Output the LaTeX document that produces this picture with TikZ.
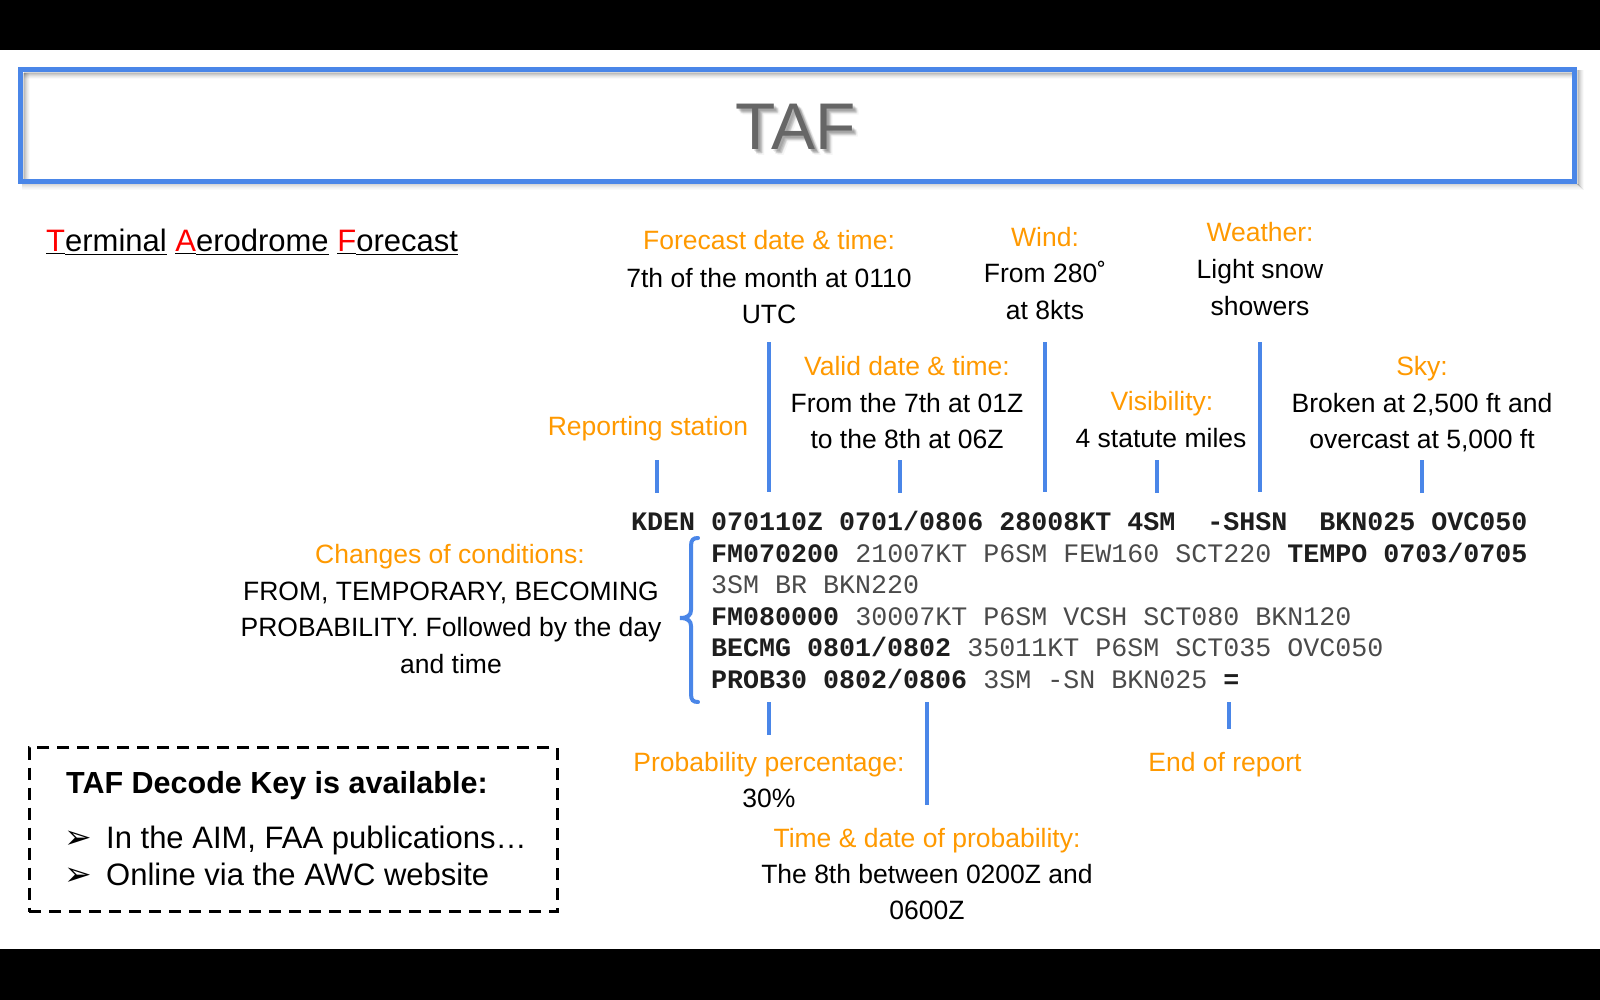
\documentclass[tikz,border=0pt]{standalone}
\usepackage{fontspec}
\setmainfont{Liberation Sans}
\setmonofont{Liberation Mono}
\newfontfamily\dejavu{DejaVu Sans}
\definecolor{tafblue}{HTML}{4A86E8}
\definecolor{taforange}{HTML}{FF9900}
\definecolor{tafgray}{HTML}{666666}
\definecolor{codereg}{HTML}{4A4A4A}
\definecolor{codebold}{HTML}{1E1E1E}
\newcommand{\cb}[1]{{\bfseries\color{codebold}#1}}
\tikzset{
  lblo/.style={text=taforange, font=\fontsize{26.5}{36.5}\selectfont, inner sep=0pt, anchor=base, align=center},
  lblb/.style={text=black, font=\fontsize{26.5}{36.5}\selectfont, inner sep=0pt, anchor=base, align=center},
  codeline/.style={text=codereg, font=\ttfamily\fontsize{26.67}{32}\selectfont, inner sep=0pt, anchor=base west},
  conn/.style={draw=tafblue, line width=4.5pt},
  keytext/.style={text=black, font=\fontsize{31}{36}\selectfont, inner sep=0pt, anchor=base west},
}
\begin{document}
\begin{tikzpicture}[x=1pt,y=-1pt]
\useasboundingbox (0,0) rectangle (1600,1000);
\fill[black] (0,0) rectangle (1600,50);
\fill[black] (0,949) rectangle (1600,1000);

% title box with soft shadows
\foreach \i/\o in {1/0.16,2/0.12,3/0.09,4/0.06,5/0.04,6/0.02}{
  \draw[black, opacity=\o, line width=1.2pt] (23+\i,73) -- (23+\i,179);
  \draw[black, opacity=\o, line width=1.2pt] (24,72+\i) -- (1572,72+\i);
  \draw[black, opacity=\o, line width=1.2pt] (22,183.5+\i) -- (1578+\i,183.5+\i);
  \draw[black, opacity=\o, line width=1.2pt] (1577+\i,70) -- (1577+\i,184+\i);
}
\node[draw=tafblue, line width=5pt, minimum width=1554pt, minimum height=112pt, inner sep=0pt] (titlebox) at (797.5,125.5) {};
\foreach \dx/\dy/\o in {2/2/0.10,3/3/0.10,4/4/0.08,5/4/0.06,4/5/0.06,6/6/0.04}{
  \node[text=black, opacity=\o, font=\fontsize{66}{80}\selectfont, anchor=base, inner sep=0pt] at (795.5+\dx,150+\dy) {TAF};
}
\node[text=tafgray, font=\fontsize{66}{80}\selectfont, anchor=base, inner sep=0pt] (taf) at (795.5,150) {TAF};

% subtitle
\node[font=\fontsize{31}{37}\selectfont, anchor=base west, inner sep=0pt] (term) at (46,252)
  {\underline{\textcolor{red}{T}}\underline{erminal} \underline{\textcolor{red}{A}}\underline{erodrome} \underline{\textcolor{red}{F}}\underline{orecast}};

% code
\node[codeline] (c1) at (631,530) {\cb{KDEN 070110Z 0701/0806 28008KT 4SM\ \ -SHSN\ \ BKN025 OVC050}};
\node[codeline] (c2) at (711,562) {\cb{FM070200} 21007KT P6SM FEW160 SCT220 \cb{TEMPO 0703/0705}};
\node[codeline] (c3) at (711,593) {3SM BR BKN220};
\node[codeline] (c4) at (711,625) {\cb{FM080000} 30007KT P6SM VCSH SCT080 BKN120};
\node[codeline] (c5) at (711,656) {\cb{BECMG 0801/0802} 35011KT P6SM SCT035 OVC050};
\node[codeline] (c6) at (711,688) {\cb{PROB30 0802/0806} 3SM -SN BKN025 \cb{=}};

% brace
\draw[tafblue, line width=4pt, line cap=round] (698,538) .. controls (693,538) and (691,540) .. (691,546) -- (691,610)
  .. controls (691,615) and (688,618) .. (680,618) .. controls (688,618) and (691,621) .. (691,626) -- (691,694)
  .. controls (691,700) and (693,702) .. (698,702);

% labels above (multi-line nodes: base = last line)
\node[lblo] (fdt) at (769,250) {Forecast date \& time:};
\node[lblb] (fdd) at (769,323.5) {7th of the month at 0110\\UTC};
\node[lblo] (vdt) at (907,375) {Valid date \& time:};
\node[lblb] (vdd) at (907,448.5) {From the 7th at 01Z\\to the 8th at 06Z};
\node[lblo] (rst) at (648,435) {Reporting station};
\node[lblo] (wdt) at (1045,247) {Wind:};
\node[lblb] (wdd) at (1045,319.5) {From 280˚\\at 8kts};
\node[lblo] (vst) at (1162,410) {Visibility:};
\node[lblb] (vsd) at (1161,447) {4 statute miles};
\node[lblo] (wxt) at (1260,242) {Weather:};
\node[lblb] (wxd) at (1260,315.5) {Light snow\\showers};
\node[lblo] (skt) at (1422,375) {Sky:};
\node[lblb] (skd) at (1422,448.5) {Broken at 2,500 ft and\\overcast at 5,000 ft};

% left label
\node[lblo] (cht) at (450,563) {Changes of conditions:};
\node[lblb] (chd) at (451,673) {FROM, TEMPORARY, BECOMING\\PROBABILITY. Followed by the day\\and time};

% labels below
\node[lblo] (ppt) at (769,771) {Probability percentage:};
\node[lblb] (ppd) at (769,807) {30\%};
\node[lblo] (tdt) at (927,847) {Time \& date of probability:};
\node[lblb] (tdd) at (927,919.5) {The 8th between 0200Z and\\0600Z};
\node[lblo] (ert) at (1225,771) {End of report};

% connectors
\coordinate (rsA) at (657,460); \coordinate (rsB) at (657,493);
\coordinate (fdA) at (769,342); \coordinate (fdB) at (769,492);
\coordinate (vdA) at (900,460); \coordinate (vdB) at (900,493);
\coordinate (wdA) at (1045,342); \coordinate (wdB) at (1045,492);
\coordinate (vsA) at (1157,460); \coordinate (vsB) at (1157,493);
\coordinate (wxA) at (1260,342); \coordinate (wxB) at (1260,492);
\coordinate (skA) at (1422,460); \coordinate (skB) at (1422,493);
\coordinate (ppA) at (769,702); \coordinate (ppB) at (769,735);
\coordinate (tdA) at (927,702); \coordinate (tdB) at (927,805);
\coordinate (erA) at (1229,702); \coordinate (erB) at (1229,729);
\foreach \c in {rs,fd,vd,wd,vs,wx,sk,pp,td,er}{
  \draw[conn] (\c A) -- (\c B);
}

% decode key box
\node[draw=black, line width=3pt, dash pattern=on 12pt off 8pt, minimum width=528pt, minimum height=164pt, inner sep=0pt] (keybox) at (293.3,829.5) {};
\node[keytext, font=\bfseries\fontsize{30.5}{36}\selectfont] (keyt) at (66,793) {TAF Decode Key is available:};
\node[keytext, font=\dejavu\fontsize{33}{36}\selectfont] (ar1) at (64,848) {➢};
\node[keytext] (k1) at (106,848) {In the AIM, FAA publications…};
\node[keytext, font=\dejavu\fontsize{33}{36}\selectfont] (ar2) at (64,885) {➢};
\node[keytext] (k2) at (106,885) {Online via the AWC website};
\end{tikzpicture}
\end{document}
